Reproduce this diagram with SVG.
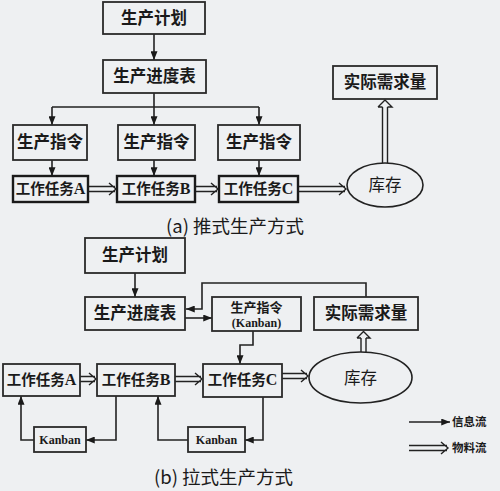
<svg xmlns="http://www.w3.org/2000/svg" width="500" height="491" viewBox="0 0 500 491">
<defs>
<marker id="ah" viewBox="0 0 10 8" refX="10" refY="4" markerWidth="9" markerHeight="7" markerUnits="userSpaceOnUse" orient="auto"><path d="M0,0 L10,4 L0,8 Z" fill="#1a1a1a"/></marker>
<style>
.bx{fill:#eef0f2;stroke:#2a2a2a;stroke-width:1.8}
.bw{fill:#eef0f2;stroke:#1a1a1a;stroke-width:2.4}
.ln{fill:none;stroke:#222;stroke-width:1.6}
.dbl{fill:none;stroke:#222;stroke-width:1.4}
.t{font-family:"Noto Sans CJK SC","Liberation Serif",sans-serif;font-weight:bold;fill:#1a1a1a;text-anchor:middle}
.s16{font-size:16.5px}
.s15{font-size:14.5px}
.s13{font-size:13px}
.L{font-family:"Liberation Serif",serif;font-size:16px}
.k{font-family:"Liberation Serif",serif;font-weight:bold;font-size:12px;fill:#1a1a1a;text-anchor:middle}
.cap{font-family:"Noto Sans CJK SC","Liberation Serif",sans-serif;font-size:18.5px;fill:#1a1a1a}
.lg{font-family:"Noto Sans CJK SC",sans-serif;font-size:11.5px;font-weight:bold;fill:#1a1a1a}
</style>
</defs>
<rect width="500" height="491" fill="#eef0f2"/>

<g id="connectors">
<path class="ln" d="M154,34 V60" marker-end="url(#ah)"/>
<path class="ln" d="M154,93 V107 M52,107 H259"/>
<path class="ln" d="M52,107 V125" marker-end="url(#ah)"/>
<path class="ln" d="M154,107 V125" marker-end="url(#ah)"/>
<path class="ln" d="M259,107 V125" marker-end="url(#ah)"/>
<path class="ln" d="M52,160 V176" marker-end="url(#ah)"/>
<path class="ln" d="M154,160 V176" marker-end="url(#ah)"/>
<path class="ln" d="M259,160 V176" marker-end="url(#ah)"/>
<path class="dbl" d="M88,186.5 H115 M88,191.5 H115 M109,183 L116,189 L109,195"/>
<path class="dbl" d="M195,186.5 H217 M195,191.5 H217 M211,183 L218,189 L211,195"/>
<path class="dbl" d="M298,186.5 H345 M298,191.5 H345 M339,183 L346,189 L339,195"/>
<path class="dbl" d="M382.5,163 V107 M387.5,163 V107 M378,107 L385,100 L392,107 H387.5 M382.5,107 H378"/>
<path class="ln" d="M135,273 V297" marker-end="url(#ah)"/>
<path class="ln" d="M366,297 V283 H202 V309 H186" marker-end="url(#ah)"/>
<path class="ln" d="M185,318 H212" marker-end="url(#ah)"/>
<path class="ln" d="M253,331 V345 H240 V364" marker-end="url(#ah)"/>
<path class="ln" d="M116,396 V440 H86" marker-end="url(#ah)"/>
<path class="ln" d="M34,440 H21 V396" marker-end="url(#ah)"/>
<path class="ln" d="M263,397 V440 H245" marker-end="url(#ah)"/>
<path class="ln" d="M188,440 H158 V396" marker-end="url(#ah)"/>
<path class="dbl" d="M80,376.5 H95 M80,381.5 H95 M89,373 L96,379 L89,385"/>
<path class="dbl" d="M175,376.5 H201 M175,381.5 H201 M195,373 L202,379 L195,385"/>
<path class="dbl" d="M282,373.5 H307 M282,378.5 H307 M301,370 L308,376 L301,382"/>
<path class="dbl" d="M361,352 V338 M366,352 V338 M357,338 L363.5,331.5 L370,338 H366 M361,338 H357"/>
<path class="ln" d="M409,422 H450" marker-end="url(#ah)"/>
<path class="dbl" d="M409,445.5 H447 M409,450.5 H447 M441,442 L448,448 L441,454"/>
</g>

<g id="a-plan"><rect class="bx" x="103" y="2" width="102" height="32"/><text class="t s16" x="154" y="24">生产计划</text></g>
<g id="a-schedule"><rect class="bx" x="103" y="60" width="103" height="33"/><text class="t s16" x="154.5" y="82">生产进度表</text></g>
<g id="a-order1"><rect class="bx" x="13" y="125" width="74" height="35"/><text class="t s16" x="50" y="148">生产指令</text></g>
<g id="a-order2"><rect class="bx" x="118" y="125" width="77" height="35"/><text class="t s16" x="156.5" y="148">生产指令</text></g>
<g id="a-order3"><rect class="bx" x="218" y="125" width="82" height="35"/><text class="t s16" x="259" y="148">生产指令</text></g>
<g id="a-taskA"><rect class="bw" x="13" y="176" width="75" height="26"/><text class="t s15" x="50.5" y="194">工作任务<tspan class="L">A</tspan></text></g>
<g id="a-taskB"><rect class="bw" x="117" y="176" width="78" height="26"/><text class="t s15" x="156" y="194">工作任务<tspan class="L">B</tspan></text></g>
<g id="a-taskC"><rect class="bw" x="219" y="176" width="79" height="26"/><text class="t s15" x="258.5" y="194">工作任务<tspan class="L">C</tspan></text></g>
<g id="a-stock"><ellipse cx="385" cy="185" rx="38" ry="22" fill="#eef0f2" stroke="#222" stroke-width="1.6"/><text class="t s16" x="385" y="191" style="font-weight:normal">库存</text></g>
<g id="a-demand"><rect class="bx" x="333" y="66" width="104" height="33"/><text class="t s16" x="385" y="88">实际需求量</text></g>
<text class="cap" x="166" y="233">(a) 推式生产方式</text>

<g id="b-plan"><rect class="bx" x="85" y="238" width="100" height="35"/><text class="t s16" x="135" y="261">生产计划</text></g>
<g id="b-schedule"><rect class="bx" x="85" y="297" width="100" height="33"/><text class="t s16" x="135" y="319">生产进度表</text></g>
<g id="b-order"><rect class="bx" x="212" y="297" width="89" height="34"/><text class="t s13" x="256.5" y="312">生产指令</text><text class="k" x="256.5" y="327">(Kanban)</text></g>
<g id="b-demand"><rect class="bx" x="314" y="297" width="104" height="33"/><text class="t s16" x="366" y="319">实际需求量</text></g>
<g id="b-taskA"><rect class="bx" x="3" y="364" width="77" height="32"/><text class="t s15" x="41.5" y="385">工作任务<tspan class="L">A</tspan></text></g>
<g id="b-taskB"><rect class="bx" x="97" y="364" width="78" height="32"/><text class="t s15" x="136" y="385">工作任务<tspan class="L">B</tspan></text></g>
<g id="b-taskC"><rect class="bx" x="203" y="364" width="79" height="33"/><text class="t s15" x="242.5" y="385">工作任务<tspan class="L">C</tspan></text></g>
<g id="b-stock"><ellipse cx="360.5" cy="377.5" rx="51.5" ry="25.5" fill="#eef0f2" stroke="#222" stroke-width="1.6"/><text class="t s16" x="360.5" y="384" style="font-weight:normal">库存</text></g>
<g id="b-kanban1"><rect class="bx" x="34" y="427" width="52" height="25"/><text class="k" x="60" y="444">Kanban</text></g>
<g id="b-kanban2"><rect class="bx" x="188" y="427" width="57" height="25"/><text class="k" x="216.5" y="444">Kanban</text></g>
<text class="cap" x="154" y="484">(b) 拉式生产方式</text>

<g id="legend"><text class="lg" x="452" y="426">信息流</text><text class="lg" x="452" y="452">物料流</text></g>
</svg>
